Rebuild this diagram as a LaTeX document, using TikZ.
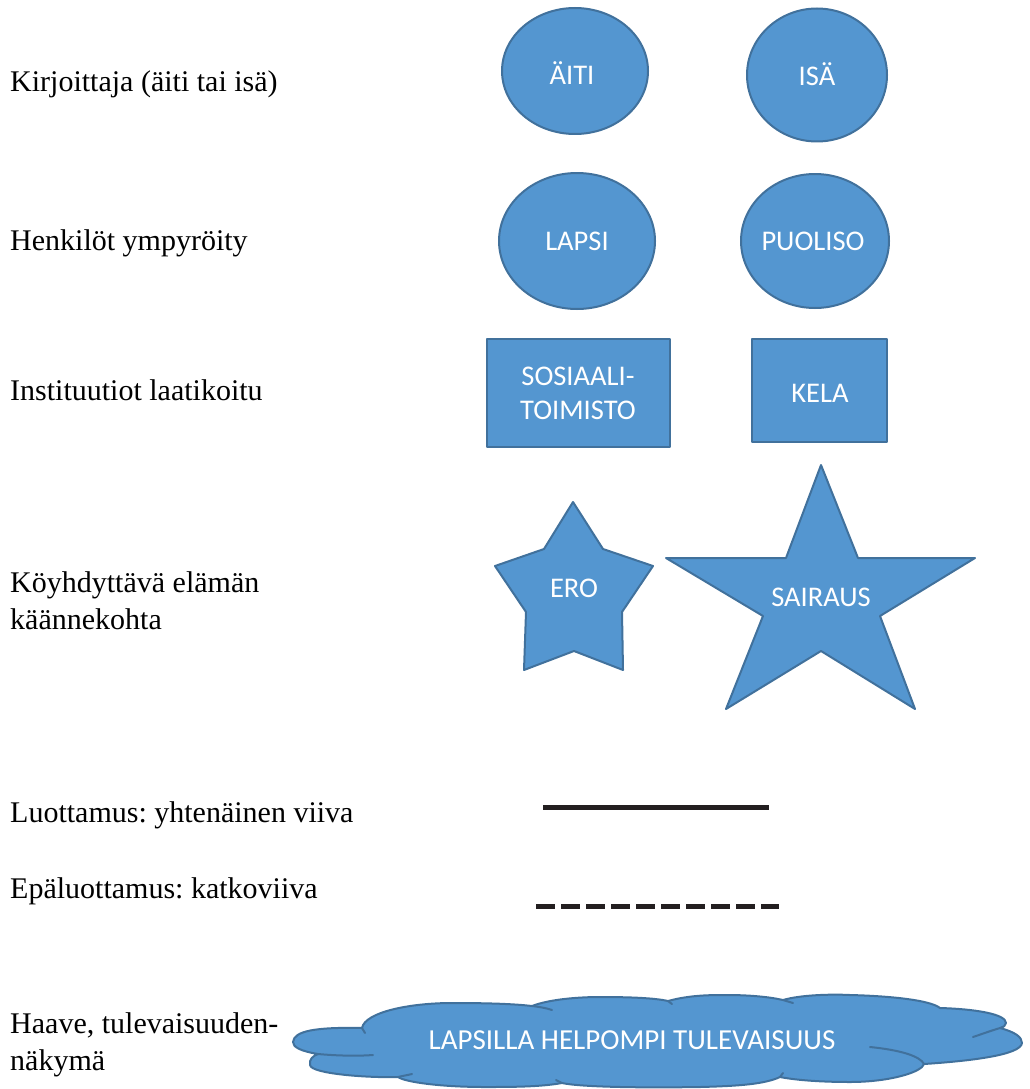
\documentclass[tikz,border=0pt]{standalone}
\usepackage{fontspec}
\setmainfont{Liberation Serif}
\newfontfamily\calib{Carlito}
\usetikzlibrary{shapes.geometric}
\frenchspacing
\definecolor{fillblue}{RGB}{84,150,208}
\definecolor{edgeblue}{RGB}{65,113,156}
\definecolor{inkdark}{RGB}{35,31,32}
\tikzset{
  legendtxt/.style={anchor=base west, inner sep=0pt, font=\fontsize{30}{37}\selectfont, text=black},
  shapelbl/.style={anchor=base, inner sep=0pt, font=\calib\fontsize{28.5}{34}\selectfont, text=white},
  blueshape/.style={fill=fillblue, draw=edgeblue, line width=2pt, line join=round},
  person/.style={blueshape, ellipse, inner sep=0pt},
  inst/.style={blueshape, rectangle, inner sep=0pt},
  innerline/.style={draw=edgeblue, line width=2pt, line cap=round},
  trustline/.style={draw=inkdark, line width=5pt},
}
\begin{document}
\begin{tikzpicture}[x=1pt,y=-1pt]
\useasboundingbox (0,0) rectangle (1029,1089);

% legend texts
\node[legendtxt] (t1) at (10,92) {Kirjoittaja (äiti tai isä)};
\node[legendtxt] (t2) at (10,250) {Henkilöt ympyröity};
\node[legendtxt] (t3) at (10,400) {Instituutiot laatikoitu};
\node[legendtxt] (t4a) at (10,592) {Köyhdyttävä elämän};
\node[legendtxt] (t4b) at (10,629) {käännekohta};
\node[legendtxt] (t5) at (10,822) {Luottamus: yhtenäinen viiva};
\node[legendtxt] (t6) at (10,898) {Epäluottamus: katkoviiva};
\node[legendtxt] (t7a) at (10,1033) {Haave, tulevaisuuden-};
\node[legendtxt] (t7b) at (10,1070) {näkymä};

% persons
\node[person, minimum width=146pt, minimum height=126pt] (aiti) at (575,71) {};
\node[person, minimum width=140pt, minimum height=133pt] (isa) at (817,75) {};
\node[person, minimum width=156pt, minimum height=136pt] (lapsi) at (577,241) {};
\node[person, minimum width=148pt, minimum height=134pt] (puoliso) at (815,241) {};
\node[shapelbl] (aitiT) at (572,85) {ÄITI};
\node[shapelbl] (isaT) at (817,86) {ISÄ};
\node[shapelbl] (lapsiT) at (577,250) {LAPSI};
\node[shapelbl] (puolisoT) at (813,250) {PUOLISO};

% institutions
\node[inst, minimum width=183pt, minimum height=108pt] (sos) at (578.5,393) {};
\node[inst, minimum width=135pt, minimum height=103pt] (kela) at (819.5,390.5) {};
\node[shapelbl] (sosT1) at (578,385) {SOSIAALI-};
\node[shapelbl] (sosT2) at (578,419) {TOIMISTO};
\node[shapelbl] (kelaT) at (820,402) {KELA};

% turning points (stars)
\path[blueshape] (573,502) -- (603,549) -- (653,566) -- (622,612) -- (623,670)
  -- (574,651) -- (524,670) -- (526,612) -- (495,566) -- (544,549) -- cycle;
\path[blueshape] (821,465) -- (858,558) -- (975,558) -- (880,616) -- (915,709)
  -- (821,651) -- (726,709) -- (763,616) -- (666,558) -- (786,558) -- cycle;
\node[shapelbl] (eroT) at (574,597) {ERO};
\node[shapelbl] (sairausT) at (821,606) {SAIRAUS};

% trust / distrust lines
\coordinate (s1) at (543,807);
\coordinate (s2) at (769,807);
\draw[trustline] (s1) -- (s2);
\coordinate (d1) at (536,906);
\coordinate (d2) at (779,906);
\draw[trustline, dash pattern=on 19pt off 6pt] (d1) -- (d2);

% dream cloud
\path[blueshape] (293,1042)
  .. controls (294,1031) and (315,1027) .. (362,1028)
  .. controls (365,1012) and (410,1003) .. (452,1003)
  .. controls (490,1003) and (515,1004) .. (532,1006)
  .. controls (550,999) and (580,997) .. (600,997)
  .. controls (630,997) and (655,998) .. (668,1001)
  .. controls (690,995) and (710,995) .. (727,995)
  .. controls (750,995) and (770,997) .. (783,1000)
  .. controls (800,995) and (830,994) .. (850,995)
  .. controls (890,996) and (930,1000) .. (940,1008)
  .. controls (975,1009) and (1006,1014) .. (1006,1023)
  .. controls (1006,1026) and (1003,1027) .. (1000,1028)
  .. controls (1015,1032) and (1022,1037) .. (1022,1043)
  .. controls (1021,1055) and (970,1061) .. (924,1064)
  .. controls (922,1072) and (890,1082) .. (850,1082)
  .. controls (820,1082) and (795,1080) .. (780,1077)
  .. controls (765,1084) and (740,1086) .. (700,1087)
  .. controls (640,1088) and (580,1087) .. (562,1083)
  .. controls (540,1087) and (510,1087) .. (485,1087)
  .. controls (440,1087) and (405,1082) .. (398,1077)
  .. controls (370,1078) and (311,1074) .. (310,1065)
  .. controls (309,1059) and (313,1056) .. (318,1054)
  .. controls (300,1051) and (293,1047) .. cycle;
\draw[innerline] (318,1054) .. controls (340,1056) and (360,1056) .. (373,1055);
\draw[innerline] (398,1077) .. controls (402,1076) and (408,1075) .. (412,1074);
\draw[innerline] (362,1028) -- (365,1033);
\draw[innerline] (532,1006) .. controls (540,1007) and (546,1008) .. (552,1010);
\draw[innerline] (668,1001) -- (672,1004);
\draw[innerline] (783,1000) -- (793,1003);
\draw[innerline] (1000,1028) .. controls (990,1031) and (982,1034) .. (973,1037);
\draw[innerline] (870,1047) .. controls (900,1050) and (920,1056) .. (924,1064);
\draw[innerline] (780,1077) -- (783,1073);
\draw[innerline] (562,1083) -- (556,1080);
\node[shapelbl, font=\calib\fontsize{29}{34}\selectfont] (cloudT) at (632,1049) {LAPSILLA HELPOMPI TULEVAISUUS};
\end{tikzpicture}
\end{document}
